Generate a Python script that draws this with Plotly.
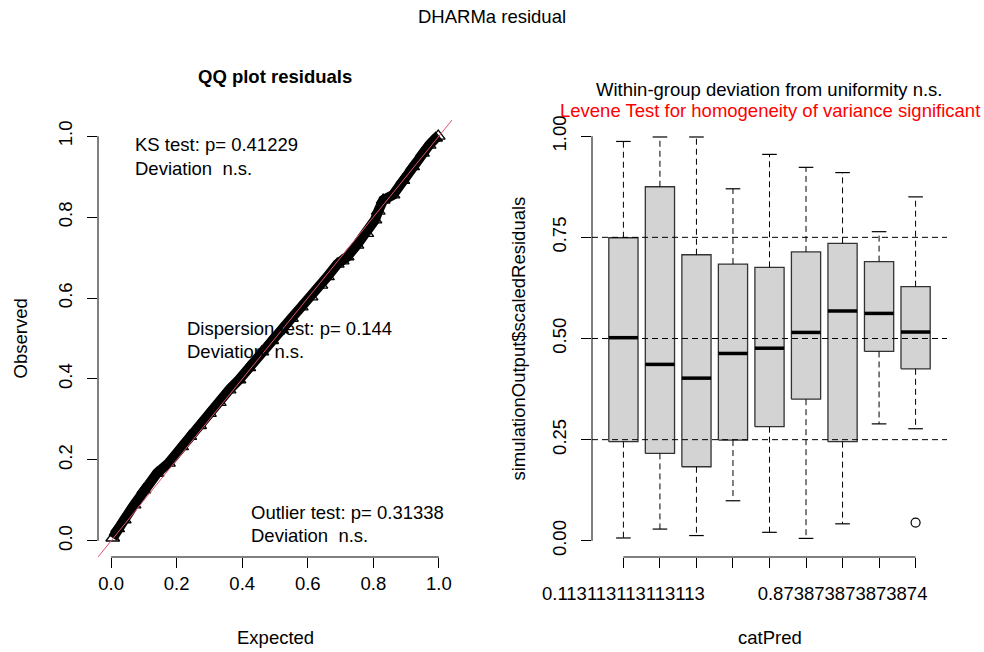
import plotly.graph_objects as go

W, H = 984, 652
FONT = "Liberation Sans, Arial, sans-serif"
FS = 18.5

# ---------------- data ----------------
# QQ plot of scaled residuals
qq_expected = [0.005, 0.020, 0.040, 0.070, 0.100, 0.140, 0.175, 0.215, 0.240, 0.270,
               0.300, 0.330, 0.360, 0.390, 0.420, 0.460, 0.490, 0.520, 0.550, 0.580,
               0.610, 0.640, 0.660, 0.690, 0.705, 0.720, 0.750, 0.780, 0.805, 0.815,
               0.830, 0.860, 0.890, 0.920, 0.950, 0.970, 0.990, 0.998]
qq_observed = [0.007, 0.030, 0.052, 0.089, 0.126, 0.167, 0.192, 0.233, 0.258, 0.285,
               0.315, 0.342, 0.373, 0.398, 0.428, 0.467, 0.495, 0.522, 0.550, 0.578,
               0.603, 0.632, 0.653, 0.684, 0.692, 0.702, 0.731, 0.760, 0.793, 0.815,
               0.842, 0.855, 0.891, 0.925, 0.958, 0.978, 0.995, 1.000]

qq_x_ticks = [0.0, 0.2, 0.4, 0.6, 0.8, 1.0]
qq_x_labels = ["0.0", "0.2", "0.4", "0.6", "0.8", "1.0"]

test_lines = [
    ("KS test: p= 0.41229", "Deviation\u00a0 n.s."),
    ("Dispersion test: p= 0.144", "Deviation\u00a0 n.s."),
    ("Outlier test: p= 0.31338", "Deviation\u00a0 n.s."),
]

# Boxplots of residuals by catPred group
cat_pos = [1, 2, 3, 4, 5, 6, 7, 8, 9]
cat_labels = ["0.113113113113113", "", "", "", "", "", "0.873873873873874", "", ""]
box_lower = [0.007, 0.029, 0.013, 0.099, 0.021, 0.006, 0.042, 0.289, 0.277]
box_q1 = [0.245, 0.216, 0.183, 0.249, 0.282, 0.350, 0.245, 0.468, 0.425]
box_median = [0.502, 0.436, 0.402, 0.463, 0.476, 0.515, 0.568, 0.562, 0.516]
box_q3 = [0.749, 0.875, 0.707, 0.684, 0.676, 0.714, 0.735, 0.690, 0.628]
box_upper = [0.987, 0.998, 0.998, 0.870, 0.955, 0.923, 0.910, 0.764, 0.850]
outlier_cat = [9]
outlier_val = [0.045]
ref_lines = [0.25, 0.50, 0.75]

res_y_ticks = [0.0, 0.25, 0.5, 0.75, 1.0]
res_y_labels = ["0.00", "0.25", "0.50", "0.75", "1.00"]

# ---------------- layout helpers ----------------
def fx(px):
    return px / W

def fy(py):
    return 1 - py / H

L_X0, L_X1 = 98, 452
R_X0, R_X1 = 592, 947
P_Y0, P_Y1 = 120, 557

qq_range = [-0.04, 1.04]
cat_range = [0.14, 9.86]
res_range = [-0.04, 1.04]

BOXW = 0.4     # half box width
STAPLE = 0.2   # half staple width

fig = go.Figure()

# QQ points
fig.add_trace(go.Scatter(
    x=qq_expected, y=qq_observed, mode="lines+markers",
    line=dict(color="black", width=10),
    marker=dict(symbol="triangle-up-open", size=12, color="black", line=dict(width=1.3)),
    xaxis="x", yaxis="y", hoverinfo="skip", showlegend=False))

# diagonal reference line
fig.add_trace(go.Scatter(
    x=qq_range, y=qq_range, mode="lines",
    line=dict(color="#DF536B", width=1),
    xaxis="x", yaxis="y", hoverinfo="skip", showlegend=False))

# boxes
for p, q1, q3 in zip(cat_pos, box_q1, box_q3):
    fig.add_trace(go.Scatter(
        x=[p - BOXW, p + BOXW, p + BOXW, p - BOXW, p - BOXW],
        y=[q1, q1, q3, q3, q1],
        mode="lines", fill="toself", fillcolor="#D3D3D3",
        line=dict(color="#333333", width=1.3),
        xaxis="x2", yaxis="y2", hoverinfo="skip", showlegend=False))

# whiskers (dashed)
wx, wy = [], []
for p, lo, q1, q3, hi in zip(cat_pos, box_lower, box_q1, box_q3, box_upper):
    wx += [p, p, None, p, p, None]
    wy += [q3, hi, None, q1, lo, None]
fig.add_trace(go.Scatter(
    x=wx, y=wy, mode="lines", line=dict(color="black", width=1, dash="6px,4px"),
    xaxis="x2", yaxis="y2", hoverinfo="skip", showlegend=False))

# staples
sx, sy = [], []
for p, lo, hi in zip(cat_pos, box_lower, box_upper):
    sx += [p - STAPLE, p + STAPLE, None, p - STAPLE, p + STAPLE, None]
    sy += [hi, hi, None, lo, lo, None]
fig.add_trace(go.Scatter(
    x=sx, y=sy, mode="lines", line=dict(color="black", width=1.2),
    xaxis="x2", yaxis="y2", hoverinfo="skip", showlegend=False))

# medians
mx, my = [], []
for p, m in zip(cat_pos, box_median):
    mx += [p - BOXW, p + BOXW, None]
    my += [m, m, None]
fig.add_trace(go.Scatter(
    x=mx, y=my, mode="lines", line=dict(color="black", width=3.5),
    xaxis="x2", yaxis="y2", hoverinfo="skip", showlegend=False))

# outliers
fig.add_trace(go.Scatter(
    x=outlier_cat, y=outlier_val, mode="markers",
    marker=dict(symbol="circle-open", size=9, color="black", line=dict(width=1.2)),
    xaxis="x2", yaxis="y2", hoverinfo="skip", showlegend=False))

shapes = []
# horizontal dashed reference lines (drawn above boxes)
for v in ref_lines:
    shapes.append(dict(type="line", xref="x2 domain", yref="y2", x0=0, x1=1, y0=v, y1=v,
                       line=dict(color="black", width=1, dash="6px,4px"), layer="above"))
# R-style axis lines spanning first to last tick
shapes.append(dict(type="line", xref="x", yref="y domain", x0=qq_x_ticks[0], x1=qq_x_ticks[-1],
                   y0=0, y1=0, line=dict(color="black", width=1)))
shapes.append(dict(type="line", xref="x domain", yref="y", x0=0, x1=0,
                   y0=qq_x_ticks[0], y1=qq_x_ticks[-1], line=dict(color="black", width=1)))
shapes.append(dict(type="line", xref="x2", yref="y2 domain", x0=cat_pos[0], x1=cat_pos[-1],
                   y0=0, y1=0, line=dict(color="black", width=1)))
shapes.append(dict(type="line", xref="x2 domain", yref="y2", x0=0, x1=0,
                   y0=res_y_ticks[0], y1=res_y_ticks[-1], line=dict(color="black", width=1)))

tickfont = dict(family=FONT, size=FS, color="black")
common_axis = dict(showgrid=False, zeroline=False, showline=False, ticks="outside",
                   ticklen=10, tickwidth=1, tickcolor="black", tickfont=tickfont,
                   fixedrange=True, automargin=False)

fig.update_layout(
    template="none",
    width=W, height=H, autosize=False,
    margin=dict(l=0, r=0, t=0, b=0, pad=0),
    paper_bgcolor="white", plot_bgcolor="white",
    showlegend=False,
    font=dict(family=FONT, size=FS, color="black"),
    xaxis=dict(domain=[fx(L_X0), fx(L_X1)], range=qq_range, anchor="y",
               tickvals=qq_x_ticks, ticktext=qq_x_labels, **common_axis),
    yaxis=dict(domain=[fy(P_Y1), fy(P_Y0)], range=qq_range, anchor="x",
               tickvals=qq_x_ticks, ticktext=qq_x_labels, tickangle=-90,
               ticklabelstandoff=8, **common_axis),
    xaxis2=dict(domain=[fx(R_X0), fx(R_X1)], range=cat_range, anchor="y2",
                tickvals=cat_pos, ticktext=cat_labels, ticklabelstandoff=10, **common_axis),
    yaxis2=dict(domain=[fy(P_Y1), fy(P_Y0)], range=res_range, anchor="x2",
                tickvals=res_y_ticks, ticktext=res_y_labels, tickangle=-90,
                ticklabelstandoff=8, **common_axis),
    shapes=shapes,
)

ann = []
def text_at(txt, px, py, xanchor="center", color="black", bold=False, angle=0):
    ann.append(dict(text=("<b>%s</b>" % txt) if bold else txt, xref="paper", yref="paper",
                    x=fx(px), y=fy(py), xanchor=xanchor, yanchor="middle", showarrow=False,
                    textangle=angle, font=dict(family=FONT, size=FS, color=color)))

text_at("DHARMa residual", 492, 17)
text_at("QQ plot residuals", (L_X0 + L_X1) / 2, 76, bold=True)
text_at("Within-group deviation from uniformity n.s.", (R_X0 + R_X1) / 2, 90)
text_at("Levene Test for homogeneity of variance significant", (R_X0 + R_X1) / 2, 110, color="#FF0000")
text_at("Expected", (L_X0 + L_X1) / 2, 637)
text_at("catPred", (R_X0 + R_X1) / 2, 637)
text_at("Observed", 20, (P_Y0 + P_Y1) / 2, angle=-90)
text_at("simulationOutput$scaledResiduals", 518, (P_Y0 + P_Y1) / 2, angle=-90)

# test result texts inside QQ panel
test_pos = [(133, 145, 168), (185, 328, 351), (249, 512, 535)]
for (l1, l2), (px, py1, py2) in zip(test_lines, test_pos):
    text_at(l1, px, py1, xanchor="left")
    text_at(l2, px, py2, xanchor="left")

fig.update_layout(annotations=ann)
fig.write_html("out.html")
